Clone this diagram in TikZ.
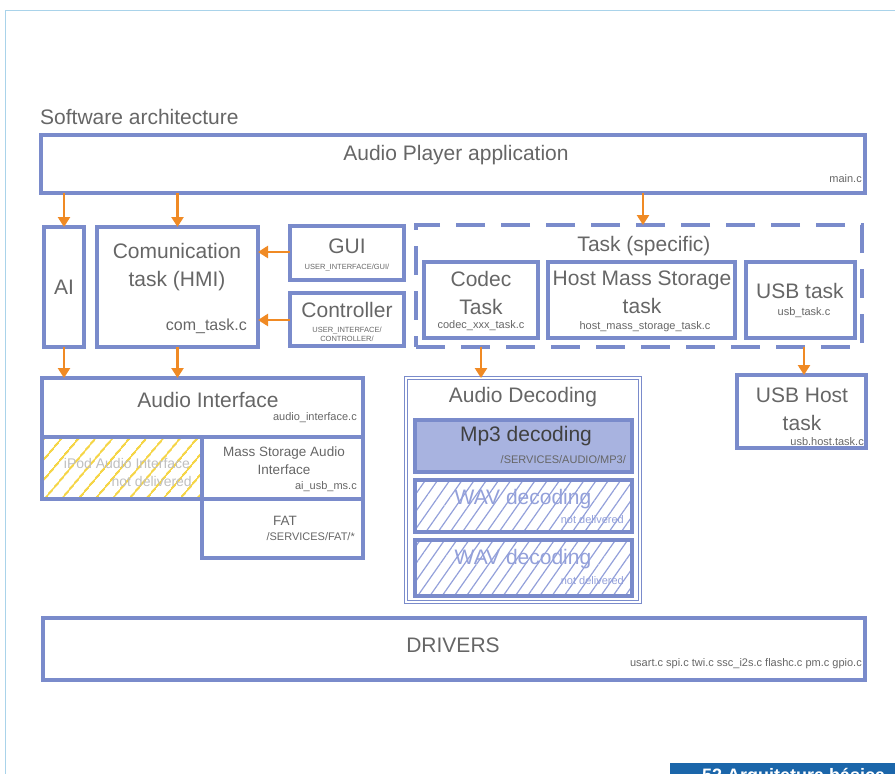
\documentclass[tikz,border=0pt]{standalone}
\usepackage{fontspec}
\setmainfont{Liberation Sans}
\usetikzlibrary{arrows.meta,patterns.meta}
\definecolor{bcol}{HTML}{7A8BCB}
\definecolor{ocol}{HTML}{F08A24}
\definecolor{tcol}{HTML}{666666}
\definecolor{framec}{HTML}{A9D3EA}
\definecolor{mpfill}{HTML}{A8B3E0}
\definecolor{hatchy}{HTML}{F5D547}
\definecolor{hatchb}{HTML}{93A0DA}
\definecolor{barblue}{HTML}{1B66AA}
\tikzset{
 box/.style={draw=bcol,line width=3.2pt,anchor=north west,inner sep=0pt,outer sep=0pt},
 big/.style={text=tcol,font=\fontsize{21}{24}\selectfont,inner sep=0pt,align=center},
 mid/.style={text=tcol,font=\fontsize{13.5}{15}\selectfont,inner sep=0pt,align=center},
 small/.style={text=tcol,font=\fontsize{11}{12}\selectfont,inner sep=0pt},
 tiny/.style={text=tcol,font=\fontsize{7.5}{9}\selectfont,inner sep=0pt},
 arr/.style={draw=ocol,line width=2.5pt,-{Triangle[width=12pt,length=10pt]}},
}
\begin{document}
\begin{tikzpicture}[x=1pt,y=-1pt]
\useasboundingbox (0,0) rectangle (895,774);
% frame
\draw[framec,line width=1pt] (5,774) -- (5,10) -- (895,10);
% title
\node[big,anchor=west] (title) at (40,117) {Software architecture};
% application
\node[box,minimum width=824pt,minimum height=58pt] (app) at (41,135) {};
\node[big] (tapp) at (456,155) {Audio Player application};
\node[small,anchor=east] (tmain) at (862,179) {main.c};
% AI
\node[box,minimum width=40pt,minimum height=120pt] (ai) at (44,227) {};
\node[big] (tai) at (64,287) {AI};
% Communication
\node[box,minimum width=161pt,minimum height=120pt] (com) at (97,227) {};
\node[big] (tcom) at (177,267) {Comunication\\[4pt]task (HMI)};
\node[mid,anchor=east,font=\fontsize{16}{18}\selectfont] (tcomf) at (247,326) {com\_task.c};
% GUI
\node[box,minimum width=114pt,minimum height=54pt] (gui) at (290,226) {};
\node[big] (tgui) at (347,246) {GUI};
\node[tiny] (tguif) at (347,268) {USER\_INTERFACE/GUI/};
% Controller
\node[box,minimum width=114pt,minimum height=53pt] (ctl) at (290,293) {};
\node[big] (tctl) at (347,310) {Controller};
\node[tiny,align=center] (tctlf) at (347,334) {USER\_INTERFACE/\\CONTROLLER/};
% Task specific
\node[box,dash pattern=on 29pt off 16pt,minimum width=446pt,minimum height=122pt] (task) at (416,225) {};
\node[big] (ttask) at (644,246) {Task (specific)};
\node[box,minimum width=114pt,minimum height=76pt] (codec) at (424,262) {};
\node[big] (tcodec) at (481,293) {Codec\\[4pt]Task};
\node[small] (tcodecf) at (481,326) {codec\_xxx\_task.c};
\node[box,minimum width=187pt,minimum height=76pt] (hms) at (548,262) {};
\node[big] (thms) at (642,292) {Host Mass Storage\\[4pt]task};
\node[small] (thmsf) at (645,327) {host\_mass\_storage\_task.c};
\node[box,minimum width=109pt,minimum height=76pt] (usb) at (746,262) {};
\node[big] (tusb) at (800,291) {USB task};
\node[small] (tusbf) at (804,313) {usb\_task.c};
% Audio interface
\node[box,minimum width=321pt,minimum height=59pt] (aif) at (42,378) {};
\node[big] (taif) at (208,400) {Audio Interface};
\node[small,anchor=east] (taiff) at (357,418) {audio\_interface.c};
\node[box,pattern={Lines[angle=50,distance=13pt,line width=2pt]},pattern color=hatchy,minimum width=160pt,minimum height=62pt] (ipod) at (42,437) {};
\node[text=black!25,font=\fontsize{14}{16}\selectfont,inner sep=0pt] (tipod) at (127,463) {iPod Audio Interface};
\node[text=black!25,font=\fontsize{14}{16}\selectfont,inner sep=0pt,anchor=east] (tipodf) at (192,481) {not delivered};
\node[box,minimum width=161pt,minimum height=62pt] (msa) at (202,437) {};
\node[mid] (tmsa) at (284,461) {Mass Storage Audio\\[3pt]Interface};
\node[small,anchor=east] (tmsaf) at (357,487) {ai\_usb\_ms.c};
\node[box,minimum width=161pt,minimum height=59pt] (fat) at (202,499) {};
\node[mid] (tfat) at (285,521) {FAT};
\node[small,anchor=east] (tfatf) at (355,537) {/SERVICES/FAT/*};
% Audio decoding
\node[box,line width=1.4pt,double=white,double distance=1.3pt,minimum width=234pt,minimum height=224pt] (adec) at (406,378) {};
\node[big] (tadec) at (523,397) {Audio Decoding};
\node[box,fill=mpfill,minimum width=217pt,minimum height=52pt] (mp3) at (415,420) {};
\node[big,text=black!75] (tmp3) at (526,436) {Mp3 decoding};
\node[small,anchor=east] (tmp3f) at (626,460) {/SERVICES/AUDIO/MP3/};
\node[box,pattern={Lines[angle=55,distance=10pt,line width=1.2pt]},pattern color=hatchb,minimum width=217pt,minimum height=52pt] (wav1) at (415,480) {};
\node[big,text=hatchb] (twav1) at (523,499) {WAV decoding};
\node[small,text=hatchb,anchor=east] (twav1f) at (624,520) {not delivered};
\node[box,pattern={Lines[angle=55,distance=10pt,line width=1.2pt]},pattern color=hatchb,minimum width=217pt,minimum height=56pt] (wav2) at (415,540) {};
\node[big,text=hatchb] (twav2) at (523,559) {WAV decoding};
\node[small,text=hatchb,anchor=east] (twav2f) at (624,581) {not delivered};
% USB host
\node[box,minimum width=129pt,minimum height=73pt] (uh) at (737,375) {};
\node[big] (tuh) at (802,409) {USB Host\\[4pt]task};
\node[small,anchor=east] (tuhf) at (864,442) {usb.host.task.c};
% drivers
\node[box,minimum width=822pt,minimum height=62pt] (drv) at (43,618) {};
\node[big] (tdrv) at (453,645) {DRIVERS};
\node[small,anchor=east] (tdrvf) at (862,664) {usart.c spi.c twi.c ssc\_i2s.c flashc.c pm.c gpio.c};
% arrows
\draw[arr] (app.south -| ai.north) -- (ai.north);
\draw[arr] (app.south -| com.north) -- (com.north);
\draw[arr] (app.south -| 643,0) -- (task.north -| 643,0);
\draw[arr] (gui.west |- 0,252) -- (com.east |- 0,252);
\draw[arr] (ctl.west |- 0,320) -- (com.east |- 0,320);
\draw[arr] (ai.south) -- (aif.north -| ai.south);
\draw[arr] (com.south) -- (aif.north -| com.south);
\draw[arr] (task.south -| codec.south) -- (adec.north -| codec.south);
\draw[arr] (task.south -| 804,0) -- (uh.north -| 804,0);
% bottom bar
\begin{scope}
\clip (0,0) rectangle (895,774);
\fill[barblue] (670,763) rectangle (895,790) coordinate (barc);
\node[anchor=base west,text=white,font=\bfseries\fontsize{18}{20}\selectfont,inner sep=0pt] (bar) at (702,781) {52 Arquitetura básica};
\end{scope}
\end{tikzpicture}
\end{document}
